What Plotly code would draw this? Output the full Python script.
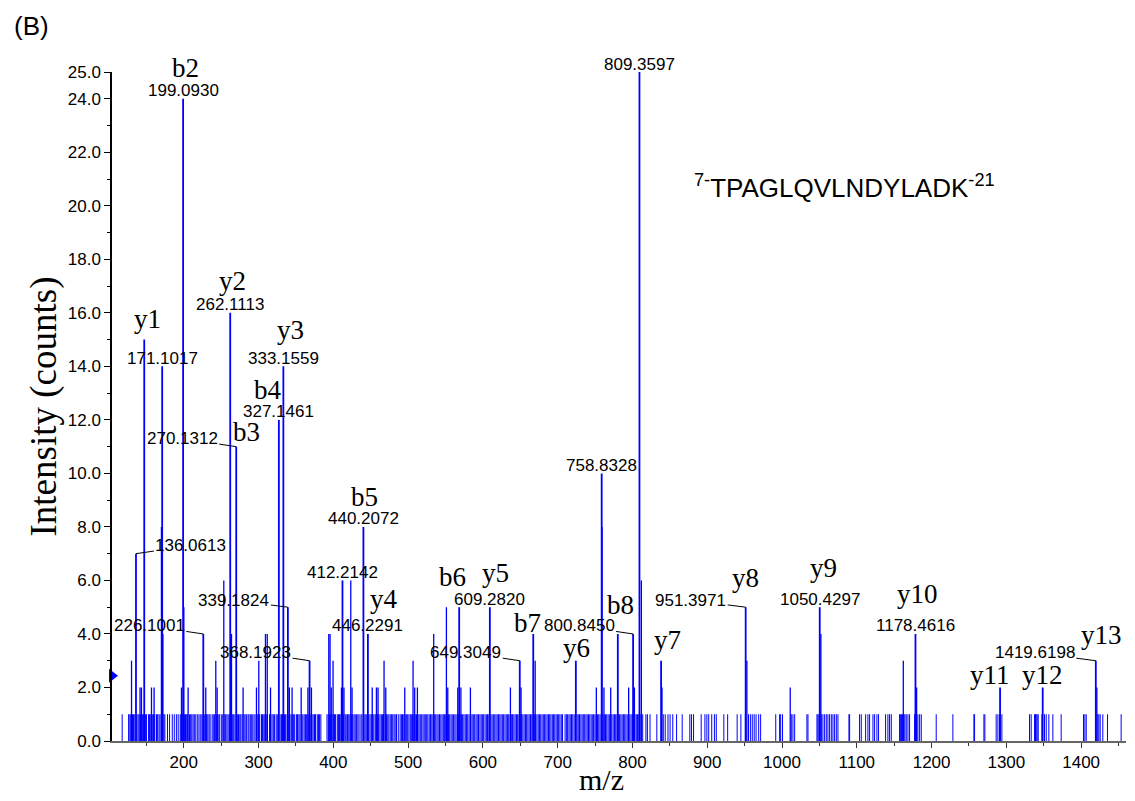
import plotly.graph_objects as go

# ---------------- data ----------------
# labelled / main fragment peaks: m/z and intensity (counts)
PEAK_MZ = [136.0613, 147.11, 171.1017, 199.0930, 226.1001, 262.1113, 270.1312, 327.1461,
           333.1559, 339.1824, 368.1923, 412.2142, 440.2072, 446.2291, 568.27, 609.2820,
           649.3049, 667.33, 724.30, 758.8328, 780.42, 800.8450, 809.3597, 838.30,
           951.3971, 1050.4297, 1178.4616, 1291.60, 1348.60, 1419.6198]
PEAK_INT = [7, 15, 14, 24, 4, 16, 11, 12,
            14, 5, 3, 6, 8, 4, 5, 5,
            3, 4, 3, 10, 4, 4, 25, 3,
            5, 5, 4, 2, 2, 3]

# smaller unlabelled peaks
MINOR_MZ = [130.1, 141.5, 143.4, 156.8, 160.3, 170.1, 172.1, 196.9, 200.1, 205.8, 229.4,
            242.8, 244.6, 253.5, 263.8, 279.3, 297.2, 300.3, 309.2, 311.6, 316.0, 341.2,
            344.8, 357.0, 366.0, 370.7, 393.9, 395.6, 397.2, 399.6, 410.8, 414.2, 423.3,
            425.0, 452.0, 457.6, 459.8, 467.8, 470.1, 495.5, 506.6, 508.8, 512.4, 534.2,
            551.2, 553.0, 566.4, 570.6, 583.3, 636.8, 651.0, 669.9, 751.7, 759.33, 761.9,
            770.9, 794.9, 802.6, 811.9, 839.5, 953.0, 1011.0, 1052.0, 1162.2, 1180.0, 1421.0]
MINOR_INT = [3, 2, 2, 2, 2, 8, 4, 2, 5, 2, 2,
             3, 2, 6, 4, 2, 2, 3, 4, 4, 2, 2,
             2, 2, 2, 2, 4, 4, 2, 3, 2, 2, 6,
             2, 2, 2, 2, 3, 2, 2, 3, 2, 2, 4,
             5, 2, 2, 2, 2, 2, 2, 3, 2, 8, 2,
             2, 2, 2, 6, 2, 3, 2, 4, 3, 2, 2]

# baseline noise peaks (all at one count)
NOISE_INTENSITY = 1.0
NOISE_MZ = [
    117.6, 126.2, 127.9, 129.1, 131.4, 132.8, 134.5, 137.2, 138.9, 140.3, 142.1, 144.6, 146.0,
    148.7, 150.2, 152.9, 154.1, 155.8, 158.4, 159.6, 161.2, 163.5, 165.0, 166.9, 168.3, 170.9,
    173.4, 174.7, 178.2, 181.0, 184.6, 187.3, 190.1, 192.5,
    195.2, 196.4, 198.0, 200.8, 202.3, 203.9, 205.1, 207.6, 209.2, 210.7, 212.4, 214.0, 215.3,
    217.8, 219.1, 221.6, 223.0, 224.7, 227.3, 228.6, 230.5, 232.1, 233.8, 235.2, 237.9, 239.4,
    241.0, 243.6, 245.3, 246.9, 248.1, 250.7, 252.2, 254.8, 256.0, 257.7, 259.3, 261.0, 263.2,
    265.4, 266.8, 268.5, 271.6, 273.2, 274.9, 276.3, 278.1, 280.6, 282.0, 283.7, 285.9, 287.2,
    289.0, 290.8, 292.3, 294.1, 296.5, 298.2, 299.8, 301.5, 303.9, 305.2, 307.0, 308.4, 310.3,
    311.9, 314.6, 316.1, 318.0, 319.7, 321.2, 323.5, 325.0, 326.4, 328.8, 330.6, 332.0, 334.7,
    336.2, 338.1, 340.4, 341.8, 343.5, 345.0, 346.9, 348.3, 350.6, 352.1, 353.9, 355.4, 357.8,
    359.2, 361.0, 362.7, 364.3, 366.1, 367.5, 369.9, 371.4, 373.0, 374.8, 376.2, 378.5, 380.1,
    381.6, 383.3,
    391.5, 393.2, 395.0, 396.4, 398.1, 399.9, 401.6, 403.0, 405.3, 406.8, 408.2, 410.0, 411.5,
    413.7, 415.9, 417.2, 419.0, 420.6, 422.1, 424.4, 426.0, 427.7, 429.3, 431.1, 432.8, 434.4,
    436.9, 438.3, 440.9, 442.5, 444.0, 445.6, 447.4, 449.1, 450.8, 452.6, 454.1, 456.0, 457.3,
    459.0, 460.7, 462.4, 464.2, 465.8, 467.1, 469.5, 471.0, 472.8, 474.3, 476.1, 477.9, 479.4,
    481.2, 482.7, 484.5, 486.8, 489.3, 491.0, 492.5, 494.2, 496.0, 497.6, 499.4, 501.1, 502.9,
    504.3, 506.0, 507.8, 509.5, 511.2, 513.0, 514.6, 516.3, 518.1, 519.9, 521.5, 523.0, 524.8,
    526.4, 528.2, 530.0, 531.7, 533.3, 535.1, 536.9, 538.6, 540.2, 542.0, 543.7, 545.4, 547.1,
    548.8, 550.3, 552.2, 553.9, 555.6, 557.4, 559.0, 560.8, 562.5, 564.1, 565.9, 567.3, 569.5,
    571.2, 572.9, 574.6, 576.4, 578.0, 579.7, 581.5, 583.9, 585.6, 587.2, 589.0, 590.8, 592.4,
    594.1, 596.0, 597.7, 599.3, 601.0, 602.9, 604.6, 606.2, 607.9, 610.6, 612.3, 614.0, 615.8,
    617.5, 619.1, 620.9, 622.6, 624.3, 626.0, 627.7, 629.5, 631.2, 632.8, 634.5, 636.3, 638.0,
    639.7, 641.4, 643.1, 644.9, 646.5, 648.2, 650.0, 651.8, 653.4, 655.1, 656.9, 658.5, 660.2,
    661.9, 663.7, 665.4, 667.0, 668.8, 670.5, 672.2, 674.0, 675.6, 677.3, 679.1, 680.8, 682.5,
    684.2, 685.9, 687.7, 689.3, 691.0, 692.8, 694.5, 696.1, 697.9, 699.6, 701.3, 703.0, 704.8,
    706.5, 709.9, 711.6, 713.3, 715.1, 716.8, 718.5, 720.2, 722.0, 723.6, 725.9, 727.5, 729.2,
    731.0, 732.7, 734.3, 736.1, 737.8, 739.5, 741.2, 742.9, 744.7, 746.3, 748.0, 749.8, 751.4,
    753.2, 754.9, 756.6, 758.3, 760.5, 762.2, 763.9, 765.6, 767.4, 769.1, 770.8, 772.4, 774.2,
    775.9, 777.6, 779.3, 781.0, 782.8, 784.5, 786.2, 787.9, 789.6, 791.3, 793.0, 794.8, 796.5,
    798.2, 799.9, 801.6, 803.3, 805.1, 806.8, 808.5, 810.2, 812.0, 813.7,
    818.0, 820.0, 823.5, 832.6, 841.2, 843.8, 847.5, 850.3, 853.9, 859.0, 866.5, 876.7, 878.9,
    881.7, 891.9, 896.9, 899.5, 902.0, 906.0, 909.6, 912.1, 922.2, 927.3, 940.0, 945.0, 951.0,
    955.2, 957.7, 960.2, 962.8, 965.3, 968.8, 971.4, 991.6, 996.8, 998.2, 1000.7, 1012.4,
    1014.6, 1016.9, 1033.3, 1034.7, 1046.7, 1048.0, 1049.4, 1052.5, 1054.7, 1057.0, 1059.2,
    1061.4, 1063.6, 1065.9, 1068.1, 1070.3, 1072.6, 1074.8, 1089.5, 1090.4, 1103.7, 1106.0,
    1111.8, 1114.9, 1117.1, 1121.6, 1123.8, 1126.9, 1129.1, 1138.5, 1141.6, 1143.8, 1146.1,
    1157.2, 1158.6, 1159.9, 1161.2, 1163.0, 1164.3, 1166.1, 1168.4, 1170.6, 1177.3, 1181.7,
    1184.0, 1186.2, 1206.2, 1228.5, 1256.6, 1257.5, 1270.0, 1271.3, 1286.4, 1288.7, 1290.9,
    1294.0, 1331.0, 1333.2, 1337.7, 1339.0, 1339.9, 1341.2, 1342.6, 1347.5, 1351.0, 1353.3,
    1356.8, 1362.2, 1373.3, 1403.2, 1405.0, 1406.8, 1422.3, 1423.7, 1425.5, 1429.0, 1435.3,
    1453.5]

PRECURSOR_MARK = 2.44  # blue triangle on the y axis

# peaks labelled with their m/z directly above the stick
NUMBER_LABELS = [199.0930, 171.1017, 262.1113, 333.1559, 327.1461, 440.2072, 412.2142,
                 446.2291, 609.2820, 758.8328, 809.3597, 1050.4297, 1178.4616]
# peaks labelled with a leader line: (m/z, label offset x px, label offset y px)
LEADER_LABELS = [(136.0613, 55, -8), (270.1312, -54, -8), (226.1001, -54, -8),
                 (339.1824, -54, -7), (368.1923, -54, -8), (649.3049, -54, -8),
                 (800.8450, -54, -8), (951.3971, -55, -7), (1419.6198, -61, -8)]
# fragment-ion names: (name, m/z, dx px, dy px of visual centre relative to stick top)
ION_LABELS = [("b2", 199.0930, 2, -31), ("y1", 147.11, 3, -18), ("y2", 262.1113, 2, -29),
              ("y3", 333.1559, 7, -33), ("b3", 270.1312, 10, -15), ("b4", 327.1461, -11, -30),
              ("b5", 440.2072, 1, -30), ("y4", 446.2291, 16, -32), ("b6", 568.27, -7, -30),
              ("y5", 609.2820, 6, -31), ("b7", 667.33, -6, -11), ("y6", 724.30, 1, -10),
              ("b8", 780.42, 3, -29), ("y7", 838.30, 6, -18), ("y8", 951.3971, 0, -26),
              ("y9", 1050.4297, 4, -36), ("y10", 1178.4616, 2, -37), ("y11", 1291.60, -10, -9),
              ("y12", 1348.60, 0, -9), ("y13", 1419.6198, 6, -23)]

X_RANGE = [104, 1460]
Y_RANGE = [0, 25]
X_TICKS = [200, 300, 400, 500, 600, 700, 800, 900, 1000, 1100, 1200, 1300, 1400]
Y_TICKS = [0, 2, 4, 6, 8, 10, 12, 14, 16, 18, 20, 22, 24, 25]

SANS = "Liberation Sans, Arial, sans-serif"
SERIF = "Liberation Serif, Times New Roman, serif"
BLUE = "#0000FF"


def sticks(mzs, ints):
    xs, ys = [], []
    for m, i in zip(mzs, ints):
        xs += [m, m, None]
        ys += [0, i, None]
    return xs, ys


fig = go.Figure()

nx, ny = sticks(NOISE_MZ, [NOISE_INTENSITY] * len(NOISE_MZ))
fig.add_trace(go.Scatter(x=nx, y=ny, mode="lines", line=dict(color=BLUE, width=1),
                         hoverinfo="skip", showlegend=False))
mx, my = sticks(MINOR_MZ, MINOR_INT)
fig.add_trace(go.Scatter(x=mx, y=my, mode="lines", line=dict(color=BLUE, width=1.3),
                         hoverinfo="skip", showlegend=False))
px_, py_ = sticks(PEAK_MZ, PEAK_INT)
fig.add_trace(go.Scatter(x=px_, y=py_, mode="lines", line=dict(color=BLUE, width=1.8),
                         hoverinfo="skip", showlegend=False))
fig.add_trace(go.Scatter(x=[X_RANGE[0]], y=[PRECURSOR_MARK], mode="markers",
                         marker=dict(symbol="triangle-right", size=12, color=BLUE),
                         cliponaxis=False, hoverinfo="skip", showlegend=False))

peak_int = dict(zip(PEAK_MZ, PEAK_INT))
ann = []
for m in NUMBER_LABELS:
    ann.append(dict(x=m, y=peak_int[m], text=f"{m:.4f}", showarrow=False,
                    xanchor="center", yanchor="middle", yshift=8,
                    font=dict(family=SANS, size=17, color="black")))
for m, ax, ay in LEADER_LABELS:
    ann.append(dict(x=m, y=peak_int[m], text=f"{m:.4f}", showarrow=True,
                    arrowhead=0, arrowwidth=1, arrowcolor="black", ax=ax, ay=ay,
                    standoff=0, font=dict(family=SANS, size=17, color="black")))
for name, m, dx, dy in ION_LABELS:
    corr = 3 if name.startswith("y") else 0
    ann.append(dict(x=m, y=peak_int[m], text=name, showarrow=False,
                    xanchor="center", yanchor="middle", xshift=dx, yshift=-dy + corr,
                    font=dict(family=SERIF, size=27, color="black")))

ann.append(dict(xref="paper", yref="paper", x=0.572, y=0.829, xanchor="left", yanchor="middle",
                text="<sup>7-</sup>TPAGLQVLNDYLADK<sup>-21</sup>", showarrow=False,
                font=dict(family=SANS, size=26, color="black")))
ann.append(dict(xref="paper", yref="paper", x=-0.099, y=1.069, xanchor="left", yanchor="middle",
                text="(B)", showarrow=False, font=dict(family=SANS, size=26, color="black")))
# x-axis title (placed as in the reference, slightly left of centre)
ann.append(dict(xref="paper", yref="paper", x=0.483, y=-0.058, xanchor="center", yanchor="middle",
                text="m/z", showarrow=False, font=dict(family=SERIF, size=30, color="black")))

fig.update_layout(
    width=1135, height=801,
    margin=dict(l=112, r=9, t=72, b=60),
    paper_bgcolor="white", plot_bgcolor="white",
    annotations=ann,
    xaxis=dict(range=X_RANGE, showgrid=False, zeroline=False, showline=True,
               linecolor="#666666", linewidth=2, ticks="outside", ticklen=5,
               tickcolor="#333333", tickvals=X_TICKS, ticktext=[str(v) for v in X_TICKS],
               tickfont=dict(family=SANS, size=17, color="black"),
               minor=dict(tickmode="linear", tick0=0, dtick=50, ticks="outside", ticklen=3,
                          tickcolor="#333333")),
    yaxis=dict(range=Y_RANGE, showgrid=False, zeroline=False, showline=True,
               linecolor="black", linewidth=1.5, ticks="outside", ticklen=6,
               tickcolor="black", tickvals=Y_TICKS, ticktext=[f"{v:.1f}" for v in Y_TICKS],
               tickfont=dict(family=SANS, size=17, color="black"),
               minor=dict(tickmode="linear", tick0=0, dtick=1, ticks="outside", ticklen=3,
                          tickcolor="black"),
               title=dict(text="Intensity (counts)", font=dict(family=SERIF, size=37, color="black"),
                          standoff=0)),
)

fig.write_html("out.html")
